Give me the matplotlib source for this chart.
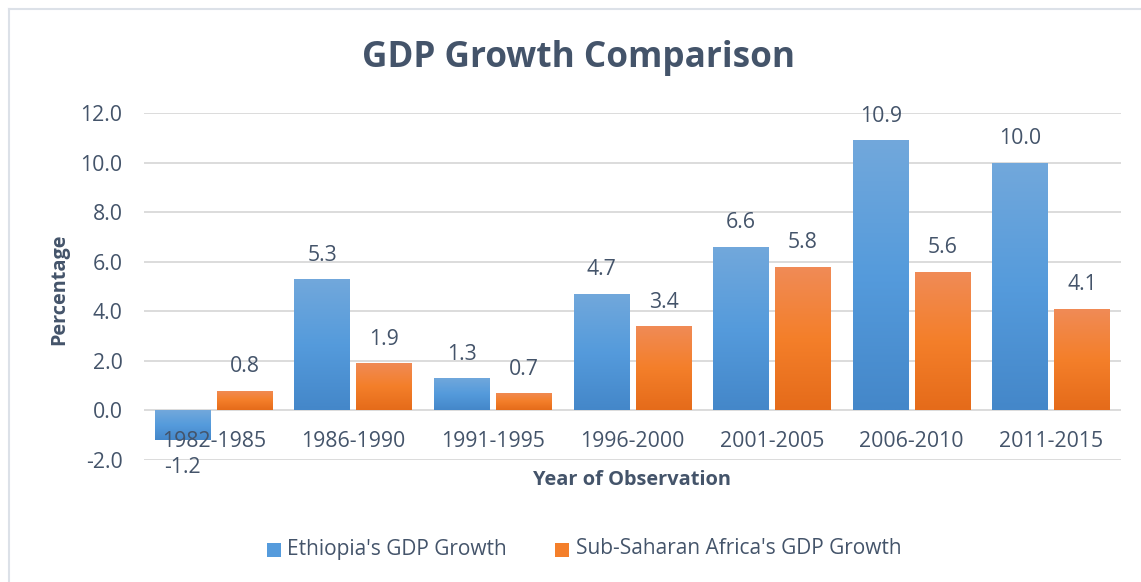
import numpy as np
import matplotlib
matplotlib.use("Agg")
import matplotlib.pyplot as plt
from matplotlib.colors import LinearSegmentedColormap
from matplotlib.lines import Line2D
from matplotlib.patches import Rectangle

# Data
periods = ["1982-1985", "1986-1990", "1991-1995", "1996-2000",
           "2001-2005", "2006-2010", "2011-2015"]
ethiopia_growth = [-1.2, 5.3, 1.3, 4.7, 6.6, 10.9, 10.0]
ssa_growth = [0.8, 1.9, 0.7, 3.4, 5.8, 5.6, 4.1]
series_names = ["Ethiopia's GDP Growth", "Sub-Saharan Africa's GDP Growth"]
y_ticks = [-2.0, 0.0, 2.0, 4.0, 6.0, 8.0, 10.0, 12.0]

TEXT = "#44546A"
GRID = "#D9D9D9"
BLUE = "#559BDC"
ORANGE = "#F47F2A"
FONT = "Open Sans"
plt.rcParams["font.family"] = [FONT, "DejaVu Sans"]

W, H = 1141, 582
fig = plt.figure(figsize=(W / 100, H / 100), dpi=100)
fig.patch.set_facecolor("white")


def fx(px):
    return px / W


def fy(py):
    return 1 - py / H


# plot area in pixel coordinates
left, right, top, bottom = 144, 1121, 113, 460
ax = fig.add_axes([fx(left), fy(bottom), (right - left) / W, (bottom - top) / H])

x = np.arange(len(periods))
bw = 0.40
off = 0.222

blue_cmap = LinearSegmentedColormap.from_list(
    "blue_grad", ["#4487C9", "#559BDC", "#72A8DB"])
orange_cmap = LinearSegmentedColormap.from_list(
    "orange_grad", ["#E56B1A", "#F47F2A", "#F08B57"])

bars_e = ax.bar(x - off, ethiopia_growth, bw, color=BLUE, zorder=2)
bars_s = ax.bar(x + off, ssa_growth, bw, color=ORANGE, zorder=2)

grad = np.linspace(0, 1, 256).reshape(-1, 1)
for bars, cmap in ((bars_e, blue_cmap), (bars_s, orange_cmap)):
    for b in bars:
        x0, y0 = b.get_x(), b.get_y()
        w, h = b.get_width(), b.get_height()
        ylo, yhi = min(y0, y0 + h), max(y0, y0 + h)
        im = ax.imshow(grad, cmap=cmap, aspect="auto", origin="lower",
                       extent=[x0, x0 + w, ylo, yhi], zorder=3,
                       interpolation="bilinear")
        im.set_clip_path(b)

ax.set_xlim(-0.5, len(periods) - 0.5)
ax.set_ylim(-2, 12)
ax.set_yticks(y_ticks)
ax.set_yticklabels([f"{v:.1f}" for v in y_ticks])
ax.yaxis.grid(True, color=GRID, linewidth=1.3, zorder=0)
ax.set_axisbelow(True)
ax.tick_params(axis="y", length=0, pad=15.5, labelsize=15.3, labelcolor=TEXT)
ax.set_xticks([])
for s in ax.spines.values():
    s.set_visible(False)

# category labels sit just below the zero line
for xi, lab in zip(x, periods):
    ax.annotate(lab, (xi, 0), xytext=(0, -31), textcoords="offset pixels",
                ha="center", va="center", fontsize=15.3, color=TEXT, zorder=5)

# value labels
for bars, vals in ((bars_e, ethiopia_growth), (bars_s, ssa_growth)):
    for b, v in zip(bars, vals):
        cx = b.get_x() + b.get_width() / 2
        dy = 24 if v >= 0 else -27
        ax.annotate(f"{v:.1f}", (cx, v), xytext=(0, dy), textcoords="offset pixels",
                    ha="center", va="center", fontsize=15.3, color=TEXT, zorder=5)

fig.text(fx(578), fy(58), "GDP Growth Comparison",
         ha="center", va="center", fontsize=25.3, fontweight="bold", color=TEXT)
fig.text(fx(632), fy(480), "Year of Observation", ha="center", va="center",
         fontsize=14.4, fontweight="bold", color=TEXT)
fig.text(fx(59), fy(289), "Percentage", ha="center", va="center",
         rotation=90, fontsize=14.3, fontweight="bold", color=TEXT)

# legend: colour keys and series names along the bottom
legend_items = [(267, 287, BLUE, series_names[0]), (555, 576, ORANGE, series_names[1])]
for kx, tx, col, name in legend_items:
    fig.add_artist(Rectangle((fx(kx), fy(557)), 14 / W, 14 / H,
                             transform=fig.transFigure, facecolor=col, edgecolor="none"))
    fig.text(fx(tx), fy(549), name, ha="left", va="center",
             fontsize=15, color=TEXT)

# chart-area border (left and top edges)
fig.add_artist(Line2D([fx(8.5), fx(8.5)], [0, fy(8.5)], transform=fig.transFigure,
                      color="#DCE1E8", linewidth=1.5))
fig.add_artist(Line2D([fx(8.5), 1], [fy(8.5), fy(8.5)], transform=fig.transFigure,
                      color="#DCE1E8", linewidth=1.5))

fig.savefig("out.png", dpi=100)
